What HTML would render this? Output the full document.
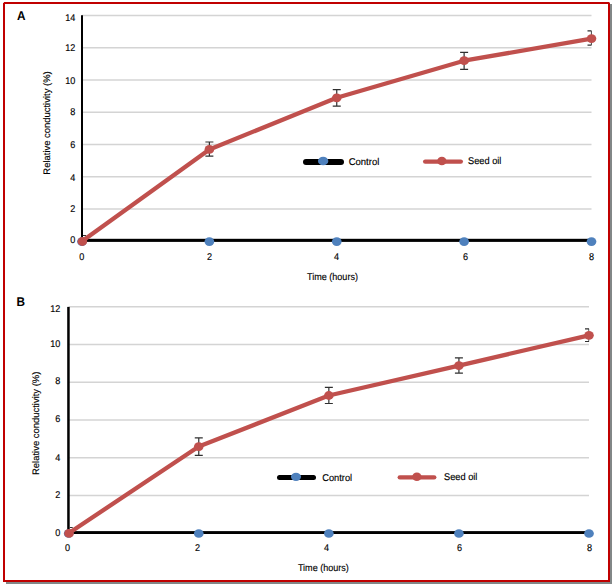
<!DOCTYPE html>
<html><head><meta charset="utf-8"><title>Relative conductivity</title>
<style>
html,body{margin:0;padding:0;background:#fff;}
svg{display:block;}
text{font-family:"Liberation Sans",sans-serif;fill:#000;stroke:#000;stroke-width:0.15px;text-rendering:geometricPrecision;}
.b{font-size:12.7px;font-weight:bold;stroke:none;}
</style></head><body>
<svg width="612" height="584" viewBox="0 0 612 584">
<rect width="612" height="584" fill="#fff"/>
<rect x="610" y="4" width="2" height="580" fill="#828787"/>
<rect x="6" y="582" width="606" height="2" fill="#828787"/>
<rect x="4" y="3" width="605" height="578" fill="none" stroke="#C00000" stroke-width="2"/>
<rect x="3" y="2" width="1" height="1" fill="#fff" fill-opacity="0.8"/><path d="M609 2h1v1z" fill="#fff"/>
<text transform="translate(16.9,20) scale(0.93,1)" class="b">A</text>
<text transform="translate(16.6,306) scale(0.93,1)" class="b">B</text>
<clipPath id="ca"><rect x="83" y="0" width="508.80" height="584"/></clipPath>
<line x1="82" y1="209.05" x2="591.5" y2="209.05" stroke="#D4D4D4" stroke-width="1.4"/>
<line x1="82" y1="176.80" x2="591.5" y2="176.80" stroke="#D4D4D4" stroke-width="1.4"/>
<line x1="82" y1="144.55" x2="591.5" y2="144.55" stroke="#D4D4D4" stroke-width="1.4"/>
<line x1="82" y1="112.30" x2="591.5" y2="112.30" stroke="#D4D4D4" stroke-width="1.4"/>
<line x1="82" y1="80.05" x2="591.5" y2="80.05" stroke="#D4D4D4" stroke-width="1.4"/>
<line x1="82" y1="47.80" x2="591.5" y2="47.80" stroke="#D4D4D4" stroke-width="1.4"/>
<line x1="82" y1="15.55" x2="591.5" y2="15.55" stroke="#D4D4D4" stroke-width="1.4"/>
<rect x="81" y="15.25" width="2" height="226.65" fill="#000"/>
<rect x="81" y="238.8" width="510.50" height="3.10" fill="#000"/>
<text transform="translate(75.40,243.00) scale(0.9286,1)" text-anchor="end" font-size="9.8">0</text>
<text transform="translate(75.40,212.00) scale(0.9286,1)" text-anchor="end" font-size="9.8">2</text>
<text transform="translate(75.40,181.00) scale(0.9286,1)" text-anchor="end" font-size="9.8">4</text>
<text transform="translate(75.40,148.00) scale(0.9286,1)" text-anchor="end" font-size="9.8">6</text>
<text transform="translate(75.40,115.00) scale(0.9286,1)" text-anchor="end" font-size="9.8">8</text>
<text transform="translate(75.40,84.00) scale(0.9286,1)" text-anchor="end" font-size="9.8">10</text>
<text transform="translate(75.40,51.00) scale(0.9286,1)" text-anchor="end" font-size="9.8">12</text>
<text transform="translate(75.40,21.00) scale(0.9286,1)" text-anchor="end" font-size="9.8">14</text>
<text transform="translate(81.80,260.00) scale(0.9286,1)" text-anchor="middle" font-size="9.8">0</text>
<text transform="translate(209.60,260.00) scale(0.9286,1)" text-anchor="middle" font-size="9.8">2</text>
<text transform="translate(336.60,260.00) scale(0.9286,1)" text-anchor="middle" font-size="9.8">4</text>
<text transform="translate(465.50,260.00) scale(0.9286,1)" text-anchor="middle" font-size="9.8">6</text>
<text transform="translate(591.60,260.00) scale(0.9286,1)" text-anchor="middle" font-size="9.8">8</text>
<path d="M78.00 235.50H86.00M78.00 241.50H86.00M82.00 235.50V241.50" stroke="#303030" stroke-width="1.2" fill="none" clip-path="url(#ca)"/>
<path d="M205.38 142.00H213.38M205.38 156.10H213.38M209.38 142.00V156.10" stroke="#303030" stroke-width="1.2" fill="none" clip-path="url(#ca)"/>
<path d="M332.75 89.70H340.75M332.75 106.10H340.75M336.75 89.70V106.10" stroke="#303030" stroke-width="1.2" fill="none" clip-path="url(#ca)"/>
<path d="M460.12 52.40H468.12M460.12 69.30H468.12M464.12 52.40V69.30" stroke="#303030" stroke-width="1.2" fill="none" clip-path="url(#ca)"/>
<path d="M587.50 30.80H591.50M587.50 45.20H591.50M591.50 30.80V45.20" stroke="#303030" stroke-width="1.2" fill="none" clip-path="url(#ca)"/>
<ellipse cx="82.00" cy="241.60" rx="4.85" ry="4.3" fill="#4F81BD"/>
<ellipse cx="209.38" cy="241.60" rx="4.85" ry="4.3" fill="#4F81BD"/>
<ellipse cx="336.75" cy="241.60" rx="4.85" ry="4.3" fill="#4F81BD"/>
<ellipse cx="464.12" cy="241.60" rx="4.85" ry="4.3" fill="#4F81BD"/>
<ellipse cx="591.50" cy="241.60" rx="4.85" ry="4.3" fill="#4F81BD"/>
<path d="M82.00 241.30 L209.38 149.39 L336.75 97.79 L464.12 60.70 L591.50 38.53" stroke="#C0504D" stroke-width="4.3" fill="none" stroke-linejoin="round" stroke-linecap="round"/>
<ellipse cx="82.30" cy="241.51" rx="4.8" ry="4.4" fill="#C0504D"/>
<ellipse cx="209.38" cy="149.39" rx="4.8" ry="4.4" fill="#C0504D"/>
<ellipse cx="336.75" cy="97.79" rx="4.8" ry="4.4" fill="#C0504D"/>
<ellipse cx="464.12" cy="60.70" rx="4.8" ry="4.4" fill="#C0504D"/>
<ellipse cx="591.50" cy="38.53" rx="4.8" ry="4.4" fill="#C0504D"/>
<text transform="translate(49.6,123) rotate(-90)" text-anchor="middle" font-size="9.45" stroke="none">Relative conductivity (%)</text>
<text transform="translate(307.00,280.00) scale(0.9235,1)" text-anchor="start" font-size="9.8">Time (hours)</text>
<line x1="306.0" y1="162" x2="341.0" y2="162" stroke="#000" stroke-width="6" stroke-linecap="round"/>
<ellipse cx="323.15" cy="161.05" rx="5.2" ry="4.3" fill="#4F81BD"/>
<text transform="translate(348.70,165.00) scale(0.9694,1)" text-anchor="start" font-size="9.8">Control</text>
<line x1="425.2" y1="161.6" x2="460.8" y2="161.6" stroke="#C0504D" stroke-width="4.4" stroke-linecap="round"/>
<ellipse cx="441.85" cy="161.05" rx="4.7" ry="4.3" fill="#C0504D"/>
<text transform="translate(468.00,164.00) scale(0.9439,1)" text-anchor="start" font-size="9.8">Seed oil</text>
<clipPath id="cb"><rect x="69.7" y="0" width="519.60" height="584"/></clipPath>
<line x1="68.7" y1="495.45" x2="589" y2="495.45" stroke="#D4D4D4" stroke-width="1.4"/>
<line x1="68.7" y1="457.70" x2="589" y2="457.70" stroke="#D4D4D4" stroke-width="1.4"/>
<line x1="68.7" y1="419.95" x2="589" y2="419.95" stroke="#D4D4D4" stroke-width="1.4"/>
<line x1="68.7" y1="382.20" x2="589" y2="382.20" stroke="#D4D4D4" stroke-width="1.4"/>
<line x1="68.7" y1="344.45" x2="589" y2="344.45" stroke="#D4D4D4" stroke-width="1.4"/>
<line x1="68.7" y1="306.70" x2="589" y2="306.70" stroke="#D4D4D4" stroke-width="1.4"/>
<rect x="67.2" y="306.90" width="2.5" height="227.10" fill="#000"/>
<rect x="67.2" y="531.1" width="521.80" height="2.90" fill="#000"/>
<text transform="translate(60.30,536.00) scale(0.9286,1)" text-anchor="end" font-size="9.8">0</text>
<text transform="translate(60.30,498.00) scale(0.9286,1)" text-anchor="end" font-size="9.8">2</text>
<text transform="translate(60.30,461.00) scale(0.9286,1)" text-anchor="end" font-size="9.8">4</text>
<text transform="translate(60.30,422.00) scale(0.9286,1)" text-anchor="end" font-size="9.8">6</text>
<text transform="translate(60.30,384.00) scale(0.9286,1)" text-anchor="end" font-size="9.8">8</text>
<text transform="translate(60.30,347.00) scale(0.9286,1)" text-anchor="end" font-size="9.8">10</text>
<text transform="translate(60.30,312.00) scale(0.9286,1)" text-anchor="end" font-size="9.8">12</text>
<text transform="translate(67.60,551.00) scale(0.9286,1)" text-anchor="middle" font-size="9.8">0</text>
<text transform="translate(197.60,551.00) scale(0.9286,1)" text-anchor="middle" font-size="9.8">2</text>
<text transform="translate(326.50,551.00) scale(0.9286,1)" text-anchor="middle" font-size="9.8">4</text>
<text transform="translate(459.60,551.00) scale(0.9286,1)" text-anchor="middle" font-size="9.8">6</text>
<text transform="translate(589.60,551.00) scale(0.9286,1)" text-anchor="middle" font-size="9.8">8</text>
<path d="M64.70 527.50H72.70M64.70 533.50H72.70M68.70 527.50V533.50" stroke="#303030" stroke-width="1.2" fill="none" clip-path="url(#cb)"/>
<path d="M194.77 437.80H202.77M194.77 455.30H202.77M198.77 437.80V455.30" stroke="#303030" stroke-width="1.2" fill="none" clip-path="url(#cb)"/>
<path d="M324.85 387.40H332.85M324.85 403.50H332.85M328.85 387.40V403.50" stroke="#303030" stroke-width="1.2" fill="none" clip-path="url(#cb)"/>
<path d="M454.92 357.80H462.92M454.92 373.20H462.92M458.92 357.80V373.20" stroke="#303030" stroke-width="1.2" fill="none" clip-path="url(#cb)"/>
<path d="M585.00 328.80H589.00M585.00 341.50H589.00M589.00 328.80V341.50" stroke="#303030" stroke-width="1.2" fill="none" clip-path="url(#cb)"/>
<ellipse cx="68.70" cy="533.50" rx="4.85" ry="4.3" fill="#4F81BD"/>
<ellipse cx="198.77" cy="533.50" rx="4.85" ry="4.3" fill="#4F81BD"/>
<ellipse cx="328.85" cy="533.50" rx="4.85" ry="4.3" fill="#4F81BD"/>
<ellipse cx="458.92" cy="533.50" rx="4.85" ry="4.3" fill="#4F81BD"/>
<ellipse cx="589.00" cy="533.50" rx="4.85" ry="4.3" fill="#4F81BD"/>
<path d="M68.70 533.20 L198.77 446.56 L328.85 395.51 L458.92 365.59 L589.00 335.30" stroke="#C0504D" stroke-width="4.3" fill="none" stroke-linejoin="round" stroke-linecap="round"/>
<ellipse cx="69.00" cy="533.41" rx="4.8" ry="4.4" fill="#C0504D"/>
<ellipse cx="198.77" cy="446.56" rx="4.8" ry="4.4" fill="#C0504D"/>
<ellipse cx="328.85" cy="395.51" rx="4.8" ry="4.4" fill="#C0504D"/>
<ellipse cx="458.92" cy="365.59" rx="4.8" ry="4.4" fill="#C0504D"/>
<ellipse cx="589.00" cy="335.30" rx="4.8" ry="4.4" fill="#C0504D"/>
<text transform="translate(38.8,423.3) rotate(-90)" text-anchor="middle" font-size="9.45" stroke="none">Relative conductivity (%)</text>
<text transform="translate(297.90,571.00) scale(0.9235,1)" text-anchor="start" font-size="9.8">Time (hours)</text>
<line x1="279.5" y1="477.5" x2="313.5" y2="477.5" stroke="#000" stroke-width="5" stroke-linecap="round"/>
<ellipse cx="296" cy="476.85" rx="5.05" ry="4.2" fill="#4F81BD"/>
<text transform="translate(322.20,481.00) scale(0.949,1)" text-anchor="start" font-size="9.8">Control</text>
<line x1="399.8" y1="477.35" x2="434.2" y2="477.35" stroke="#C0504D" stroke-width="4.4" stroke-linecap="round"/>
<ellipse cx="416.9" cy="476.7" rx="4.7" ry="4.3" fill="#C0504D"/>
<text transform="translate(444.00,480.00) scale(0.9439,1)" text-anchor="start" font-size="9.8">Seed oil</text>
</svg>
</body></html>
